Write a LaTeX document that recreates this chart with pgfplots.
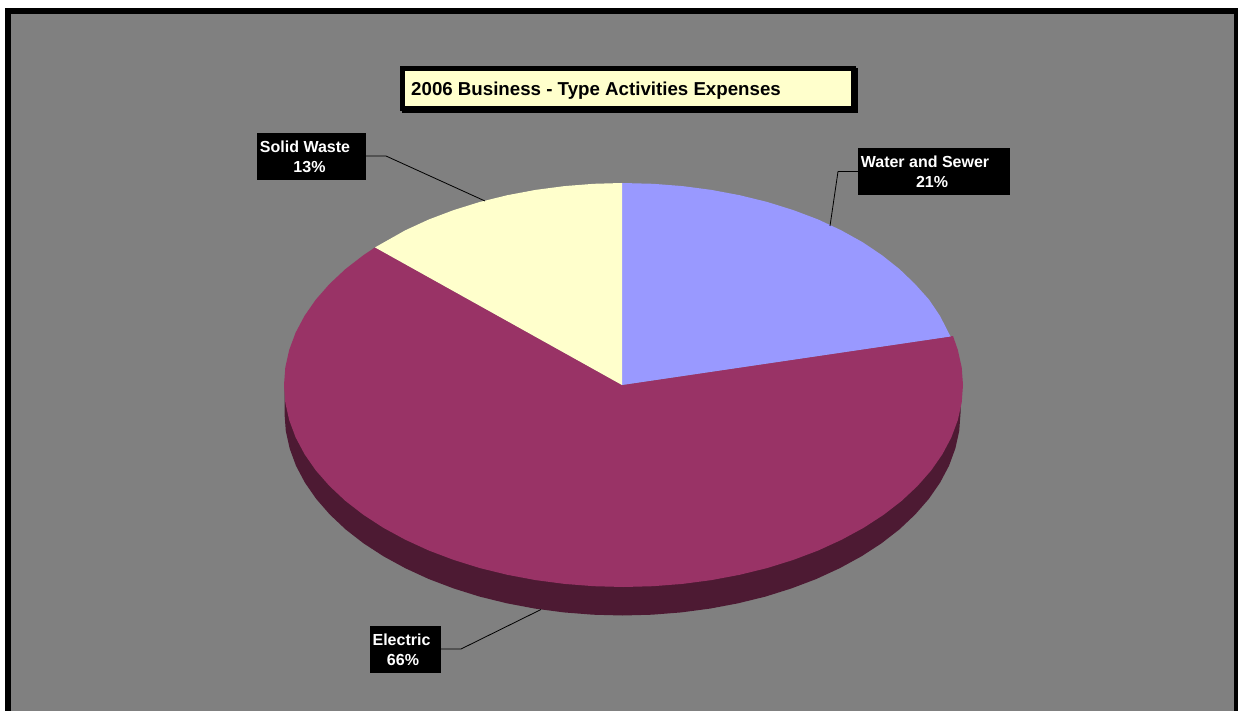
\documentclass[border=0pt]{standalone}
\usepackage{pgfplots}
\pgfplotsset{compat=1.18}
\usepackage{fontspec}
\setmainfont{Liberation Sans}
\definecolor{panel}{HTML}{808080}
\definecolor{water}{HTML}{9999FF}
\definecolor{electric}{HTML}{993366}
\definecolor{electricside}{HTML}{4D1A33}
\definecolor{waste}{HTML}{FFFFCC}
\newcommand{\lbl}[3]{\node[anchor=base,inner sep=0pt,text=white,font=\fontsize{16}{16}\selectfont\bfseries] at (axis cs:#1,#2) {#3};}
\begin{document}
\begin{tikzpicture}
\begin{axis}[
  scale only axis, width=1238pt, height=711pt,
  xmin=0, xmax=1238, ymin=0, ymax=711, y dir=reverse,
  hide axis, clip=true,
  every axis plot/.append style={line join=round},
]
% page, frame and panel
\addplot[fill=white,draw=none] coordinates {(0,0)(1238,0)(1238,711)(0,711)} -- cycle;
\addplot[fill=black,draw=none] coordinates {(5,8)(1238,8)(1238,711)(5,711)} -- cycle;
\addplot[fill=panel,draw=none] coordinates {(11,14)(1234,14)(1234,711)(11,711)} -- cycle;

% title box with its offset shadow
\addplot[fill=black,draw=none] coordinates {(402,68)(858,68)(858,113)(402,113)} -- cycle;
\addplot[fill=black,draw=none] coordinates {(400,66)(856,66)(856,111)(400,111)} -- cycle;
\addplot[fill=waste,draw=none] coordinates {(405,71)(851,71)(851,106)(405,106)} -- cycle;

% rim of the disc
\addplot[fill=electricside,draw=none] coordinates {
 (960.5,385)(960.5,413.5)(959.2,431.1)(955.3,448.6)(949,465.8)(940.1,482.6)(928.8,498.9)(915.2,514.5)
 (899.4,529.4)(881.5,543.3)(861.5,556.3)(839.7,568.2)(816.3,579)(791.5,588.4)(765.4,596.6)(738.1,603.3)
 (710,608.6)(681.2,612.4)(652,614.7)(622.5,615.5)(593,614.7)(563.8,612.4)(535,608.6)(506.9,603.3)
 (479.6,596.6)(453.5,588.4)(428.7,579)(405.3,568.2)(383.5,556.3)(363.5,543.3)(345.6,529.4)(329.8,514.5)
 (316.2,498.9)(304.9,482.6)(296,465.8)(289.7,448.6)(285.8,431.1)(284.5,413.5)(284.5,385)
} -- cycle;

% Electric, 66%
\addplot[fill=electric,draw=none] coordinates {
 (622,385)(953,336)(957.8,349.9)(961.7,367.4)(963,385)(961.7,402.6)(957.8,420.1)(951.4,437.3)(942.5,454.1)
 (931.2,470.4)(917.5,486)(901.6,500.9)(883.6,514.8)(863.6,527.8)(841.7,539.7)(818.2,550.5)(793.3,559.9)
 (767,568.1)(739.6,574.8)(711.4,580.1)(682.5,583.9)(653.1,586.2)(623.5,587)(593.9,586.2)(564.5,583.9)
 (535.6,580.1)(507.4,574.8)(480,568.1)(453.7,559.9)(428.8,550.5)(405.3,539.7)(383.4,527.8)(363.4,514.8)
 (345.4,500.9)(329.5,486)(315.8,470.4)(304.5,454.1)(295.6,437.3)(289.2,420.1)(285.3,402.6)(284,385)
 (285.3,367.4)(289.2,349.9)(295.6,332.7)(304.5,315.9)(315.8,299.6)(329.5,284)(345.4,269.1)(363.4,255.2)(375,247.4)
} -- cycle;

% Water and Sewer, 21%
\addplot[fill=water,draw=none] coordinates {
 (622,385)(622,183)(653.1,183.8)(682.5,186.1)(711.4,189.9)(739.6,195.2)(767,201.9)(793.3,210.1)(818.2,219.5)
 (841.2,230.3)(862.6,242.2)(882,255.2)(899.5,269.1)(915,284)(929,299.6)(940,315.9)(950.5,336.5)
} -- cycle;

% Solid Waste, 13%
\addplot[fill=waste,draw=none] coordinates {
 (622,385)(622,183)(593.9,183.8)(564.5,186.1)(535.6,189.9)(507.4,195.2)(480,201.9)(453.7,210.1)(428.8,219.5)
 (405.3,230.3)(375,247.4)
} -- cycle;

% leader lines
\addplot[black,line width=0.8pt] coordinates {(366,156)(386,156)(485,201)};
\addplot[black,line width=0.8pt] coordinates {(858,171.5)(838,171.5)(830,226)};
\addplot[black,line width=0.8pt] coordinates {(441,649)(461,649)(541,609.5)};

% label plates
\addplot[fill=black,draw=none] coordinates {(257,133)(366,133)(366,180)(257,180)} -- cycle;
\addplot[fill=black,draw=none] coordinates {(858,148)(1010,148)(1010,195)(858,195)} -- cycle;
\addplot[fill=black,draw=none] coordinates {(370,626)(441,626)(441,673)(370,673)} -- cycle;

\node[anchor=base west,inner sep=0pt,text=black,font=\fontsize{18.7}{18.7}\selectfont\bfseries] at (axis cs:411,95.5) {2006 Business - Type Activities Expenses};
\lbl{305}{153}{Solid Waste}
\lbl{309.5}{173}{13\%}
\lbl{925}{168}{Water and Sewer}
\lbl{932}{188}{21\%}
\lbl{401.5}{645}{Electric}
\lbl{403}{665.5}{66\%}
\end{axis}
\end{tikzpicture}
\end{document}
